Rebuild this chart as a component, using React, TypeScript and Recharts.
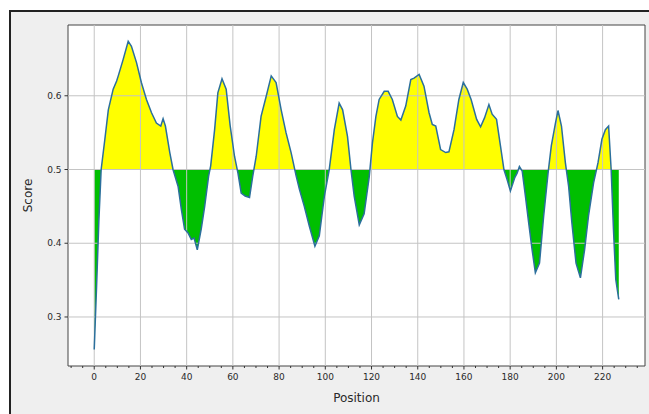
import React from 'react';
import {
  ComposedChart,
  Area,
  Line,
  XAxis,
  YAxis,
  CartesianGrid,
  ReferenceLine,
  ReferenceArea,
} from 'recharts';

const positions = [
  0, 1, 2, 3, 4.6, 6.1, 8.2, 9.7, 10.4, 12.5, 14.7, 16.1, 18.3, 20.4, 22.6, 24.8, 26.9, 28.8,
  29.8, 30.8, 32.7, 34.1, 36.3, 37.7, 39.1, 40.6, 42, 43.2, 44.6, 46.3, 47.8, 49.5, 50.4, 52.1,
  53.5, 55.3, 57.1, 58.8, 60.7, 62.2, 63.6, 65.3, 67.2, 68.6, 70.1, 72.2, 74.4, 76.6, 78.7, 80.9,
  83, 85.2, 87.4, 88.8, 90.9, 93.1, 95.5, 97.4, 99.6, 101.7, 103.9, 106, 107.5, 109.6, 111.1,
  112.5, 114.7, 116.8, 119, 120.4, 121.9, 123.3, 125.5, 127.2, 129, 131.2, 132.7, 134.8, 137,
  138.4, 140.6, 142.7, 144.9, 146.3, 147.8, 149.9, 152.1, 153.5, 155.7, 157.8, 159.7, 161.4,
  163.1, 165.5, 167.2, 168.9, 170.8, 172.2, 174.1, 175.8, 177.3, 178.7, 180.1, 182, 183, 184,
  185.2, 186.6, 188, 189.5, 190.9, 192.7, 194.5, 196.4, 197.8, 199.6, 200.7, 202.2, 203.9,
  205.3, 206.7, 208.5, 210.4, 212.2, 213.9, 216.1, 218, 219.7, 221.2, 222.6, 223.7, 224.7,
  225.7, 227,
];

const scores = [
  0.256, 0.34, 0.43, 0.5, 0.541, 0.581, 0.609, 0.62, 0.627, 0.649, 0.674, 0.667, 0.645, 0.618,
  0.595, 0.577, 0.563, 0.559, 0.569, 0.559, 0.523, 0.5, 0.477, 0.446, 0.419, 0.414, 0.405, 0.407,
  0.391, 0.419, 0.45, 0.491, 0.505, 0.554, 0.604, 0.623, 0.609, 0.56, 0.518, 0.495, 0.468, 0.464,
  0.462, 0.491, 0.518, 0.572, 0.599, 0.627, 0.618, 0.581, 0.55, 0.523, 0.491, 0.473, 0.45, 0.423,
  0.396, 0.41, 0.464, 0.5, 0.554, 0.59, 0.581, 0.545, 0.5, 0.464, 0.425, 0.44, 0.49, 0.536, 0.572,
  0.595, 0.606, 0.606, 0.595, 0.572, 0.567, 0.586, 0.622, 0.624, 0.629, 0.613, 0.577, 0.561,
  0.559, 0.527, 0.523, 0.524, 0.554, 0.595, 0.618, 0.609, 0.595, 0.568, 0.558, 0.57, 0.588,
  0.575, 0.568, 0.532, 0.5, 0.486, 0.471, 0.489, 0.495, 0.504, 0.498, 0.464, 0.428, 0.391, 0.36,
  0.373, 0.437, 0.495, 0.532, 0.563, 0.58, 0.559, 0.509, 0.477, 0.428, 0.373, 0.353, 0.391, 0.437,
  0.482, 0.509, 0.541, 0.554, 0.559, 0.5, 0.419, 0.351, 0.324,
];

const xMajorTicks = [0, 20, 40, 60, 80, 100, 120, 140, 160, 180, 200, 220];
const xAllTicks = [
  -10, -5, 0, 5, 10, 15, 20, 25, 30, 35, 40, 45, 50, 55, 60, 65, 70, 75, 80, 85, 90, 95, 100, 105,
  110, 115, 120, 125, 130, 135, 140, 145, 150, 155, 160, 165, 170, 175, 180, 185, 190, 195, 200,
  205, 210, 215, 220, 225, 230, 235,
];
const yTicks = [0.3, 0.4, 0.5, 0.6];
const baseline = 0.5;
const xDomain: [number, number] = [-11.35, 238.35];
const yDomain: [number, number] = [0.2335, 0.696];

const data = positions.map((p, i) => ({ position: p, score: scores[i] }));
const dataMax = Math.max(...scores);
const dataMin = Math.min(...scores);
const splitOffset = (dataMax - baseline) / (dataMax - dataMin);

const TEXT = '#2a2a2a';
const FONT = '"DejaVu Sans", sans-serif';

const XTick = (props: any) => {
  const { x, y, payload } = props;
  const v = payload.value;
  const major = xMajorTicks.includes(v);
  return (
    <g>
      <line x1={x} x2={x} y1={y} y2={y + (major ? 3.5 : 2)} stroke="#333" strokeWidth={1} />
      {major && (
        <text
          x={x}
          y={y + 7}
          dy="0.75em"
          textAnchor="middle"
          fill={TEXT}
          fontSize={9}
          fontFamily={FONT}
        >
          {v}
        </text>
      )}
    </g>
  );
};

export default function App() {
  return (
    <div
      style={{
        position: 'absolute',
        left: 0,
        top: 0,
        width: 649,
        height: 414,
        background: '#ffffff',
        overflow: 'hidden',
      }}
    >
      <div
        style={{
          position: 'absolute',
          left: 9,
          top: 10,
          right: 0,
          bottom: 0,
          background: '#efefef',
          borderTop: '2px solid #222',
          borderLeft: '2px solid #222',
        }}
      />
      <div style={{ position: 'absolute', left: 0, top: 0 }}>
        <ComposedChart
          width={649}
          height={414}
          data={data}
          margin={{ top: 25, right: 4, left: 0, bottom: 0 }}
        >
          <defs>
            <linearGradient id="splitFill" x1="0" y1="0" x2="0" y2="1">
              <stop offset={splitOffset} stopColor="#ffff00" />
              <stop offset={splitOffset} stopColor="#00bf00" />
            </linearGradient>
          </defs>
          <CartesianGrid fill="#ffffff" horizontal={false} vertical={false} />
          <XAxis
            dataKey="position"
            type="number"
            domain={xDomain}
            allowDataOverflow
            ticks={xAllTicks}
            interval={0}
            tick={<XTick />}
            tickLine={false}
            tickSize={0}
            tickMargin={0}
            axisLine={false}
            height={48}
            label={{
              value: 'Position',
              position: 'insideBottom',
              offset: 12,
              fill: TEXT,
              fontSize: 12,
              fontFamily: FONT,
            }}
          />
          <YAxis
            type="number"
            domain={yDomain}
            allowDataOverflow
            ticks={yTicks}
            interval={0}
            width={68}
            tickSize={3.5}
            tickMargin={3}
            tickLine={{ stroke: '#333' }}
            axisLine={false}
            tick={{ fill: TEXT, fontSize: 9, fontFamily: FONT }}
            tickFormatter={(v: number) => v.toFixed(1)}
            label={{
              value: 'Score',
              angle: -90,
              position: 'insideLeft',
              offset: 28,
              fill: TEXT,
              fontSize: 12,
              fontFamily: FONT,
              style: { textAnchor: 'middle' },
            }}
          />
          <Area
            type="linear"
            dataKey="score"
            baseValue={baseline}
            stroke="none"
            fill="url(#splitFill)"
            fillOpacity={1}
            isAnimationActive={false}
          />
          {xMajorTicks.map((t) => (
            <ReferenceLine key={'gx' + t} x={t} stroke="#c4c4c4" strokeWidth={1} />
          ))}
          {yTicks.map((t) => (
            <ReferenceLine key={'gy' + t} y={t} stroke="#c4c4c4" strokeWidth={1} />
          ))}
          <Line
            type="linear"
            dataKey="score"
            stroke="#2b6f9c"
            strokeWidth={1.5}
            dot={false}
            activeDot={false}
            isAnimationActive={false}
          />
          <ReferenceArea
            x1={xDomain[0]}
            x2={xDomain[1]}
            y1={yDomain[0]}
            y2={yDomain[1]}
            fill="none"
            stroke="#444"
            strokeWidth={1}
            ifOverflow="visible"
          />
        </ComposedChart>
      </div>
    </div>
  );
}
